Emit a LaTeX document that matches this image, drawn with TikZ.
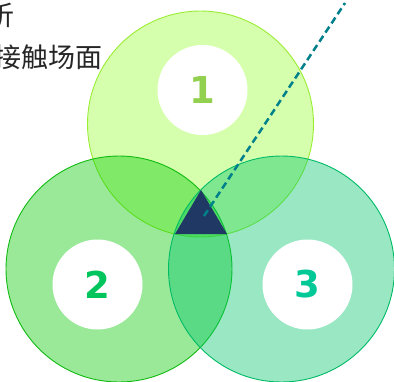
\documentclass[tikz,border=0pt]{standalone}
\usepackage{fontspec}
\newfontfamily\cjk{Noto Sans CJK SC}
\newfontfamily\numfont{DejaVu Sans}
\definecolor{cOne}{HTML}{99FF33}
\definecolor{cOneB}{HTML}{99EE33}
\definecolor{cTwo}{HTML}{00C800}
\definecolor{cTwoB}{HTML}{11BB11}
\definecolor{cThree}{HTML}{00C569}
\definecolor{cThreeB}{HTML}{00BB66}
\definecolor{nOne}{HTML}{92D050}
\definecolor{nTwo}{HTML}{00C45C}
\definecolor{nThree}{HTML}{00C896}
\definecolor{navy}{HTML}{203864}
\definecolor{tealline}{HTML}{00808A}
\tikzset{
  bigcirc/.style={circle, minimum size=226pt, inner sep=0pt, fill opacity=0.4, line width=0.9pt},
  whitecirc/.style={circle, fill=white, minimum size=90pt, inner sep=0pt, font=\numfont\bfseries\fontsize{37}{37}\selectfont},
  cjktext/.style={anchor=east, inner sep=0pt, font=\cjk\fontsize{27}{27}\selectfont, text=black!85}
}
\begin{document}
\begin{tikzpicture}[x=1pt,y=-1pt]
\clip (0,0) rectangle (394,381);
\fill[white] (0,0) rectangle (394,381);
\node[bigcirc, fill=cOne, draw=cOneB] (c1) at (200.5,124) {};
\node[bigcirc, fill=cTwo, draw=cTwoB] (c2) at (119,269) {};
\node[bigcirc, fill=cThree, draw=cThreeB] (c3) at (281.5,269) {};
\node[whitecirc, text=nOne] (w1) at (202.5,90) {1};
\node[whitecirc, text=nTwo] (w2) at (97.5,284.5) {2};
\node[whitecirc, text=nThree] (w3) at (307.5,284.5) {3};
\coordinate (ta) at (201,190);
\coordinate (tl) at (175,234);
\coordinate (tr) at (227,234);
\fill[navy] (ta) -- (tl) -- (tr) -- cycle;
\coordinate (ds) at (204,216);
\coordinate (de) at (345,3);
\draw[tealline, line width=2.5pt, dash pattern=on 7pt off 4pt] (ds) -- (de);
\node[cjktext] (t1) at (15,15) {析};
\node[cjktext] (t2) at (103,57) {接触场面};
\end{tikzpicture}
\end{document}
